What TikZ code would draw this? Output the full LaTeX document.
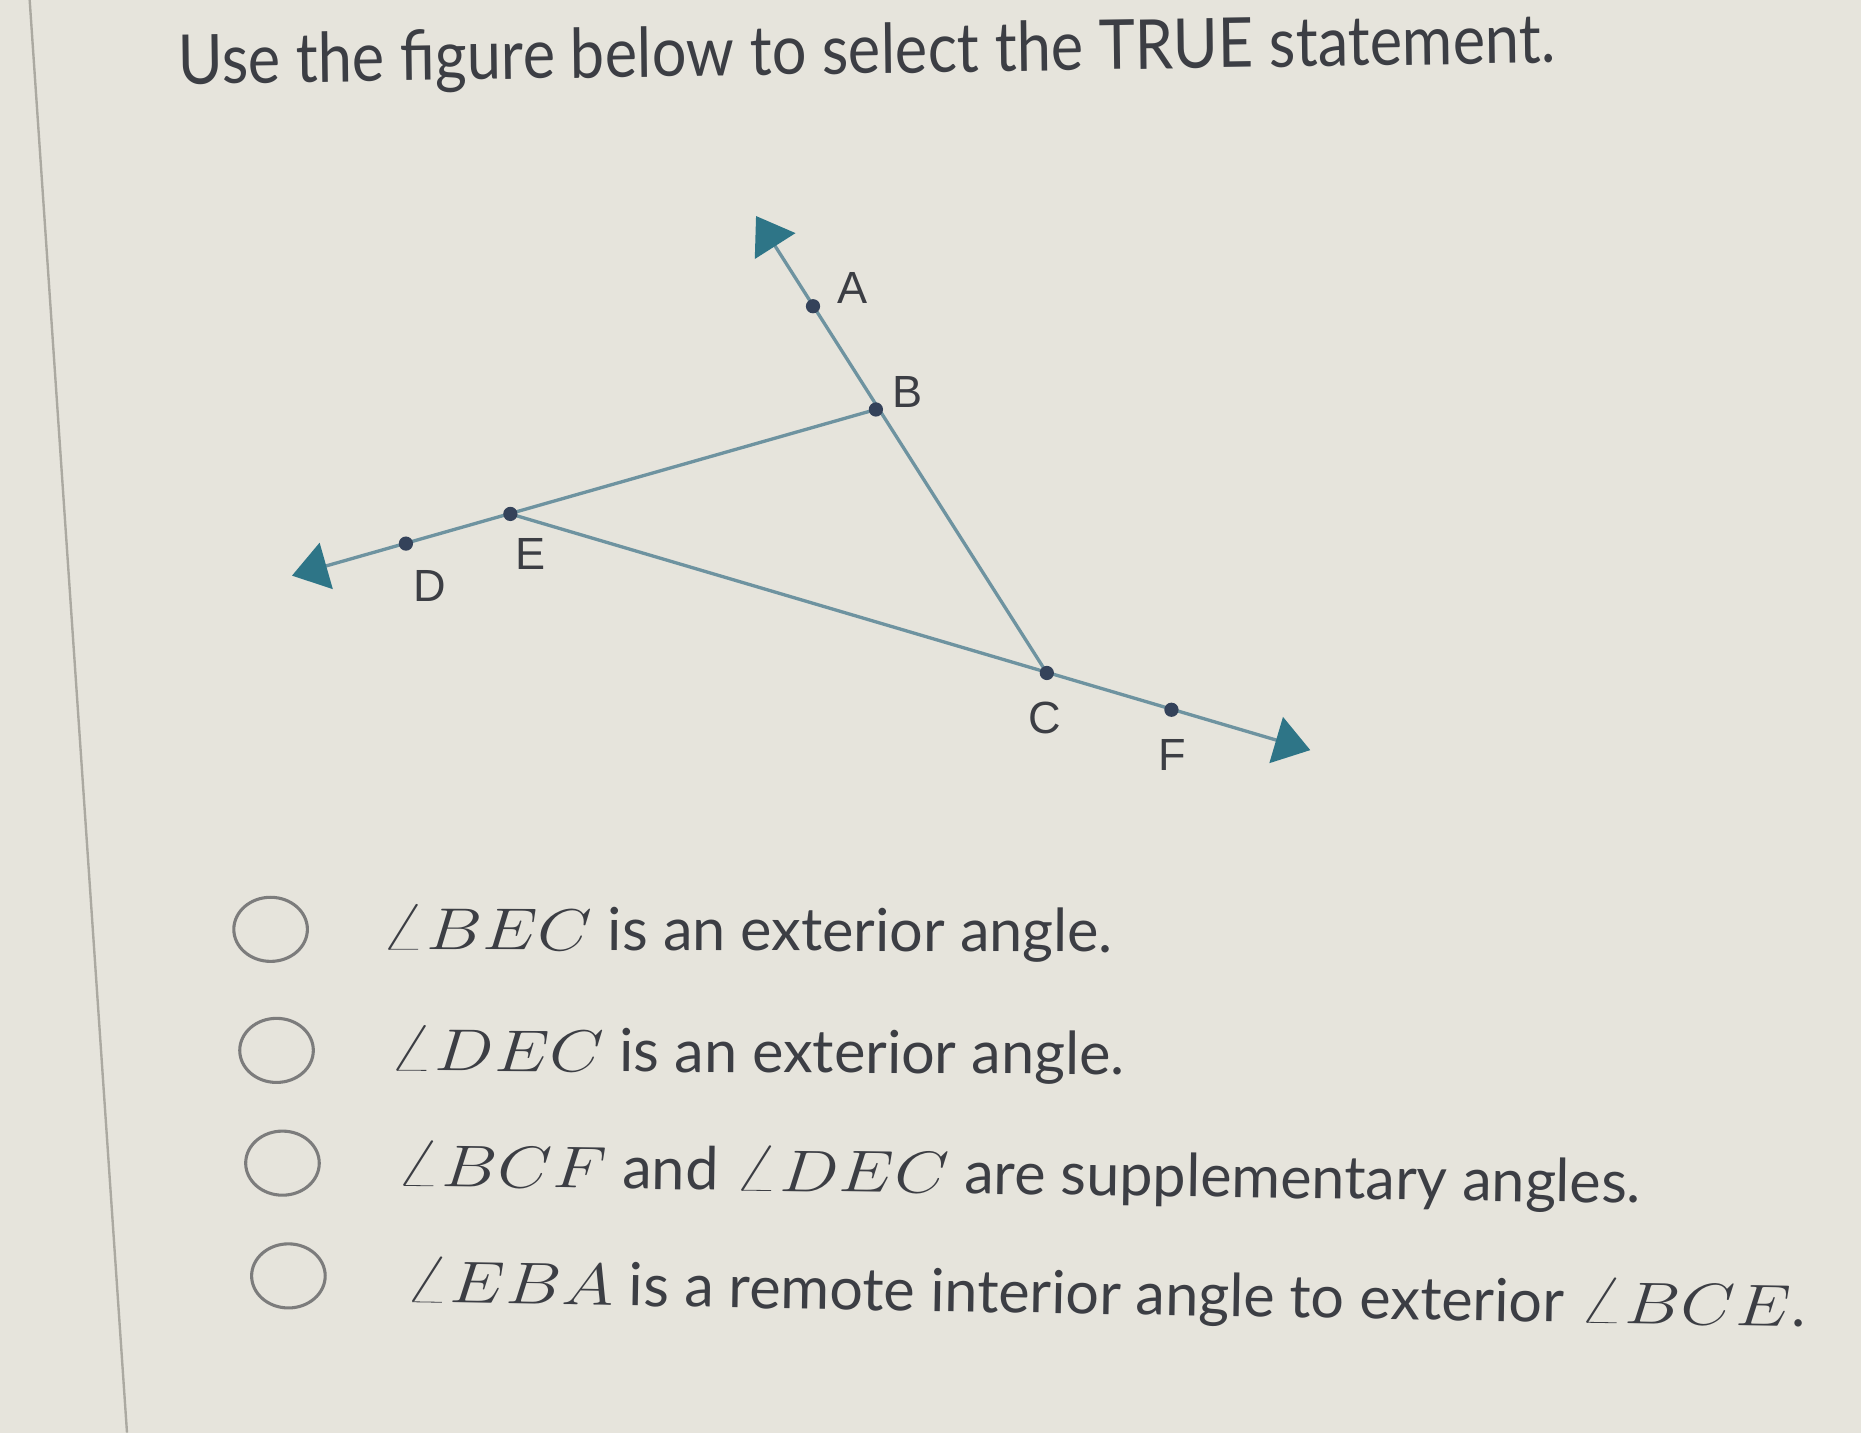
\documentclass[tikz,border=0pt]{standalone}
\usepackage{amsmath}
\usepackage{graphicx}
\usepackage{fontspec}
\setmainfont{Lato}
\setsansfont{Liberation Sans}
\usepackage{xcolor}
\usepackage{tikz}
\usetikzlibrary{arrows.meta}
\usetikzlibrary{shapes.geometric}

\definecolor{paper}{HTML}{E6E4DC}
\definecolor{lineblue}{HTML}{6E93A0}
\definecolor{tipteal}{HTML}{2E7587}
\definecolor{dotnavy}{HTML}{34425A}
\definecolor{inkgrey}{HTML}{3C3E44}
\definecolor{edgegrey}{HTML}{ABA9A1}
\definecolor{ringgrey}{HTML}{7C7C7C}

% angle in the answer choices, set a bit larger and wider than the words
\newcommand{\angname}[1]{\scalebox{1.2}[1]{\fontsize{28}{28}\selectfont$\angle #1$}}

\tikzset{
    ray/.style = {line width = 1.4pt, lineblue,
        -{Triangle[length = 15pt, width = 20pt, color = tipteal]}},
    ptlabel/.style = {font = \sffamily\fontsize{19}{19}\selectfont, text = inkgrey, inner sep = 1pt},
    radio/.style = {draw = ringgrey, line width = 1.3pt, ellipse,
        minimum width = 31pt, minimum height = 27pt, inner sep = 0},
    option/.style = {font = \fontsize{25}{25}\selectfont, text = inkgrey,
        anchor = base west, inner sep = 0},
}

\begin{document}
\begin{tikzpicture}[x = 0.5pt, y = -0.5pt]
    \fill[paper] (0, 0) rectangle (1568, 1207);
    \useasboundingbox (0, 0) rectangle (1568, 1207);

    %% page edge
    \draw[edgegrey, line width = 1pt] (25, 0) -- (107, 1207);

    \node[font = \fontsize{29}{29}\selectfont, text = inkgrey, anchor = base west,
        inner sep = 0, xscale = 0.89, rotate = 0.8]
        (title) at (150, 71) {Use the figure below to select the TRUE statement.};

    %% points of the figure
    \coordinate (A) at (685, 258);
    \coordinate (B) at (738, 345);
    \coordinate (C) at (882, 567);
    \coordinate (D) at (342, 458);
    \coordinate (E) at (430, 433);
    \coordinate (F) at (987, 598);

    \coordinate (tipT) at (637, 182);
    \coordinate (tipL) at (246, 485);
    \coordinate (tipR) at (1104, 632);

    %% lines
    \draw[ray] (B) -- (tipL);
    \draw[ray] (C) -- (tipT);
    \draw[ray] (E) -- (tipR);

    %% dots
    \foreach \p in {A, B, C, D, E, F}
        \fill[dotnavy] (\p) circle (3pt);

    \node[ptlabel] (lA) at (718, 243) {A};
    \node[ptlabel] (lB) at (765, 330) {B};
    \node[ptlabel] (lC) at (880, 605) {C};
    \node[ptlabel] (lD) at (362, 494) {D};
    \node[ptlabel] (lE) at (447, 467) {E};
    \node[ptlabel] (lF) at (988, 636) {F};

    %% answer choices
    \node[radio] (r1) at (228, 783) {};
    \node[radio] (r2) at (233, 885) {};
    \node[radio] (r3) at (238, 980) {};
    \node[radio] (r4) at (243, 1075) {};

    \node[option, rotate = -0.2] (o1) at (320, 800) {\angname{BEC} is an exterior angle.};
    \node[option, rotate = -0.3] (o2) at (327, 902) {\angname{DEC} is an exterior angle.};
    \node[option, rotate = -0.8] (o3) at (333, 999) {\angname{BCF} and \angname{DEC} are supplementary angles.};
    \node[option, rotate = -1.0] (o4) at (340, 1097) {\angname{EBA} is a remote interior angle to exterior \angname{BCE}.};
\end{tikzpicture}
\end{document}
